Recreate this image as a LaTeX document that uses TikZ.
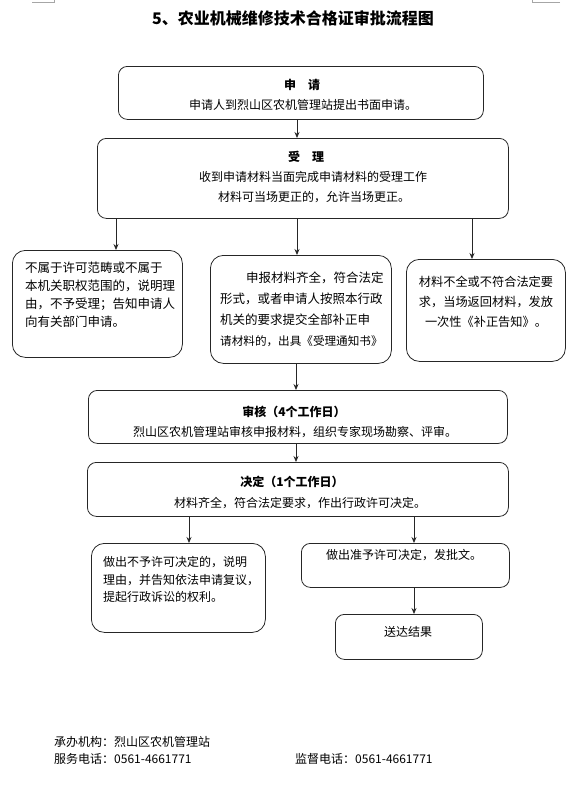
\documentclass[tikz,border=0pt]{standalone}
\usepackage{fontspec}
\setmainfont{Noto Sans CJK SC}
\usetikzlibrary{arrows.meta}
\begin{document}
\begin{tikzpicture}[x=1pt,y=-1pt,
  bx/.style={draw=black!85, line width=0.8pt, rounded corners=9pt, inner sep=0pt, anchor=north west},
  rbx/.style={bx, rounded corners=13pt},
  txt/.style={inner sep=0pt, font=\fontsize{12}{14}\selectfont},
  mtxt/.style={inner sep=0pt, font=\fontsize{12.5}{14}\selectfont},
  hd/.style={txt, font=\fontsize{12}{14}\selectfont\bfseries},
  arr/.style={-{Stealth[length=6pt,width=5pt]}, line width=0.8pt, draw=black!85},
  cropmark/.style={draw=black!35, line width=0.8pt}]
\useasboundingbox (0,0) rectangle (577,787);
% crop marks
\draw[cropmark] (32,2) -- (54,2) -- (54,0);
\draw[cropmark] (560,2) -- (532,2) -- (532,0);
% title
\node[inner sep=0pt, font=\fontsize{16}{18}\selectfont\bfseries] (title) at (293,18) {5、农业机械维修技术合格证审批流程图};
% boxes
\node[bx, minimum width=365pt, minimum height=53pt] (sq) at (118,66) {};
\node[bx, minimum width=411pt, minimum height=80pt] (sl) at (97,138) {};
\node[rbx, minimum width=170pt, minimum height=107pt] (bl) at (12,250) {};
\node[rbx, minimum width=181pt, minimum height=108pt] (bm) at (210,255) {};
\node[rbx, minimum width=159pt, minimum height=102pt] (br) at (406,259) {};
\node[bx, minimum width=419pt, minimum height=53pt] (sh) at (88,390) {};
\node[bx, minimum width=421pt, minimum height=54pt] (jd) at (87,462) {};
\node[rbx, minimum width=174pt, minimum height=89pt] (no) at (91,543) {};
\node[bx, minimum width=208pt, minimum height=44pt] (yes) at (301,543) {};
\node[bx, minimum width=147pt, minimum height=45pt] (sd) at (335,614) {};
% texts
\node[hd] at (302,85) {申　请};
\node[txt] at (303,105) {申请人到烈山区农机管理站提出书面申请。};
\node[hd] at (306,157) {受　理};
\node[txt] at (313,177) {收到申请材料当面完成申请材料的受理工作};
\node[txt] at (314,197) {材料可当场更正的，允许当场更正。};
\node[mtxt, anchor=west] at (25,268) {不属于许可范畴或不属于};
\node[mtxt, anchor=west] at (25,286) {本机关职权范围的，说明理};
\node[mtxt, anchor=west] at (25,304) {由，不予受理；告知申请人};
\node[mtxt, anchor=west] at (25,322) {向有关部门申请。};
\node[mtxt, anchor=west] at (220,278) {\hspace{26pt}申报材料齐全，符合法定};
\node[mtxt, anchor=west] at (220,299) {形式，或者申请人按照本行政};
\node[mtxt, anchor=west] at (220,320) {机关的要求提交全部补正申};
\node[txt, anchor=west, font=\fontsize{11.6}{14}\selectfont] at (220,341) {请材料的，出具《受理通知书》};
\node[txt, font=\fontsize{12.2}{14}\selectfont] at (486,282) {材料不全或不符合法定要};
\node[txt, font=\fontsize{12.2}{14}\selectfont] at (486,302) {求，当场返回材料，发放};
\node[txt, font=\fontsize{12.2}{14}\selectfont] at (486,322) {一次性《补正告知》。};
\node[hd] at (294,412) {审核（4个工作日）};
\node[txt] at (295,432) {烈山区农机管理站审核申报材料，组织专家现场勘察、评审。};
\node[hd] at (292,482) {决定（1个工作日）};
\node[txt] at (300,503) {材料齐全，符合法定要求，作出行政许可决定。};
\node[txt, anchor=west] at (103,562) {做出不予许可决定的，说明};
\node[txt, anchor=west] at (103,580) {理由，并告知依法申请复议，};
\node[txt, anchor=west] at (103,597) {提起行政诉讼的权利。};
\node[txt] at (404,555) {做出准予许可决定，发批文。};
\node[txt] at (408,632) {送达结果};
% footer
\node[txt, anchor=west] (f1) at (54,742) {承办机构：烈山区农机管理站};
\node[txt, anchor=west] (f2) at (54,759) {服务电话：0561-4661771};
\node[txt, anchor=west] (f3) at (295,759) {监督电话：0561-4661771};
% connector x positions
\coordinate (xa) at (297,0);
\coordinate (xl) at (116,0);
\coordinate (xr) at (472,0);
\coordinate (xm) at (296,0);
\coordinate (xn) at (189,0);
\coordinate (xy) at (414,0);
% connectors
\draw[arr] (xa |- sq.south) -- (xa |- sl.north);
\draw[arr] (xl |- sl.south) -- (xl |- bl.north);
\draw[arr] (xa |- sl.south) -- (xa |- bm.north);
\draw[arr] (xr |- sl.south) -- (xr |- br.north);
\draw[arr] (xm |- bm.south) -- (xm |- sh.north);
\draw[arr] (xm |- sh.south) -- (xm |- jd.north);
\draw[arr] (xn |- jd.south) -- (xn |- no.north);
\draw[arr] (xy |- jd.south) -- (xy |- yes.north);
\draw[arr] (xy |- yes.south) -- (xy |- sd.north);
\end{tikzpicture}
\end{document}
